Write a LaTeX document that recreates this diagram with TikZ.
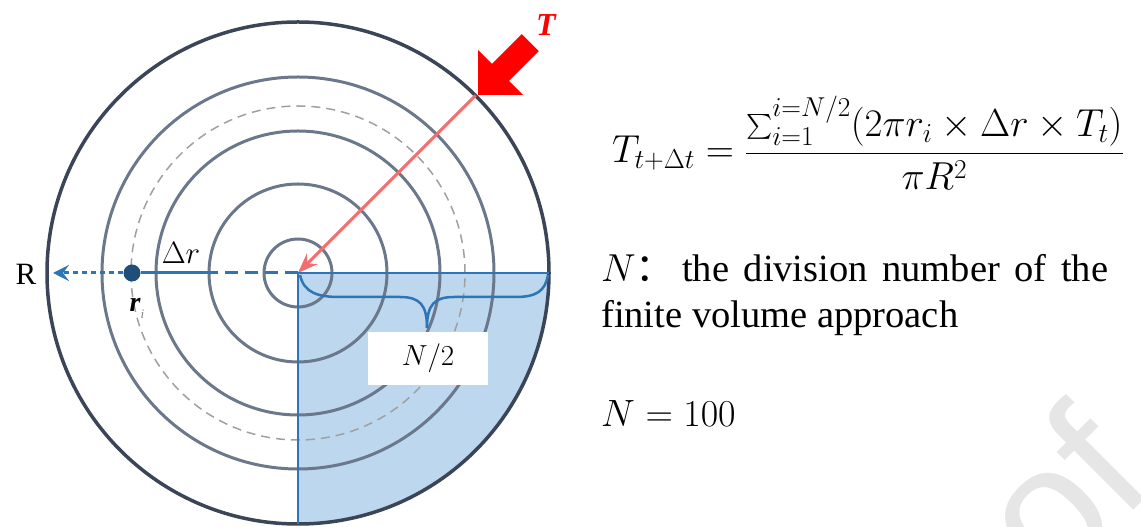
\RequirePackage{fix-cm}
\documentclass[tikz,border=0pt]{standalone}
\usepackage{amsmath}
\usepackage{fontspec}
\setmainfont{Liberation Serif}
\newfontfamily\cjk{Noto Sans CJK SC}
\newfontfamily\wmfont{Liberation Sans}
\usetikzlibrary{arrows.meta}
\definecolor{outerc}{HTML}{3C4558}
\definecolor{ringc}{HTML}{6B778A}
\definecolor{dashc}{HTML}{A0A0A0}
\definecolor{quadfill}{HTML}{BDD7EE}
\definecolor{blueline}{HTML}{2E75B6}
\definecolor{dotc}{HTML}{1F4E79}
\definecolor{redthin}{HTML}{F26D6D}
\definecolor{redbold}{HTML}{FF0000}
\definecolor{wmc}{HTML}{E6E6E6}
\begin{document}
\begin{tikzpicture}[x=1pt,y=1pt,
  ring/.style={draw=ringc,line width=3pt},
  bluel/.style={draw=blueline,line width=3pt},
  bracestyle/.style={draw=blueline,line width=2.5pt},
  txt/.style={anchor=base west,inner sep=0pt},
  lbl/.style={inner sep=0pt}]
\useasboundingbox (0,0) rectangle (1141,527);
% watermark
\begin{scope}
\clip (0,0) rectangle (1141,527);
\node[txt,rotate=45,text=wmc] (wm) at (1052,-65) {\wmfont\fontsize{180}{180}\selectfont of};
\end{scope}
\coordinate (C) at (298,254);
\coordinate (Qr) at (549,254);
\coordinate (Qb) at (298,3);
\coordinate (Tin) at (475.5,431.5);
\coordinate (Ltip) at (53,254);
\coordinate (Mid) at (210,254);
% quadrant
\fill[quadfill] (C) -- (Qr) arc[start angle=0,end angle=-90,radius=251] -- cycle;
% rings
\foreach \r in {34,89,142,196} \draw[ring] (C) circle[radius=\r];
\draw[dashc,line width=1.5pt,dash pattern=on 9pt off 6pt] (C) circle[radius=167];
\draw[outerc,line width=3.5pt] (C) circle[radius=251];
% red thin arrow
\draw[redthin,line width=3pt,-{Stealth[length=20pt,width=15pt]}] (Tin) -- (C);
% blue quadrant edges
\draw[bluel,line width=2.5pt] (Qr) -- (C) -- (Qb);
% radius line
\node[circle,fill=dotc,minimum size=17pt,inner sep=0pt] (ri) at (132,254) {};
\draw[bluel,dash pattern=on 13pt off 7pt] (C) -- (Mid);
\draw[bluel] (Mid) -- (ri);
\draw[bluel,dash pattern=on 5pt off 4pt,-{Stealth[length=16pt,width=16pt,inset=6pt]}] (ri) -- (Ltip);
% brace
\coordinate (Btip) at (427,199);
\draw[bracestyle] (300,252) .. controls (304,234) and (318,230) .. (340,230) -- (400,230) .. controls (420,230) and (427,222) .. (Btip);
\draw[bracestyle] (Btip) .. controls (427,222) and (434,230) .. (454,230) -- (515,230) .. controls (537,230) and (545,236) .. (548,252);
\node[fill=white,minimum width=120pt,minimum height=53pt,inner sep=0pt] (half) at (428,168.5) {\fontsize{29}{34}\selectfont $N/2$};
% labels
\node[lbl] (Rl) at (26,253) {\fontsize{31}{36}\selectfont R};
\node[lbl] (dr) at (181,274) {\fontsize{31}{36}\selectfont $\Delta r$};
\node[lbl] (ril) at (137,219) {\fontsize{28}{34}\selectfont\textbf{\textit{r}}\raisebox{-7pt}{\fontsize{13}{13}\selectfont\color{gray}\textit{i}}};
\node[lbl,text=redbold] (Tl) at (546,502) {\fontsize{32}{38}\selectfont\bfseries\itshape T};
% block arrow
\fill[redbold] (478,432) -- (523.2,432) -- (509.1,446.1) -- (538.8,475.8) -- (521.8,492.8) -- (492.1,463.1) -- (478,477.2) -- cycle;
% formula and text
\node[txt] (eq) at (612,364) {\fontsize{39}{46}\selectfont $T_{t+\Delta t} = \dfrac{\sum_{i=1}^{i=N/2}(2\pi r_i\times\Delta r\times T_t)}{\pi R^2}$};
\node[txt] (n1) at (601,245) {\fontsize{39}{46}\selectfont $N$\cjk{：}};
\node[txt] (n1t) at (682,245) {\fontsize{38.5}{46}\selectfont\makebox[426pt][s]{the division number of the}};
\node[txt] (n2) at (601,199) {\fontsize{38.5}{46}\selectfont finite volume approach};
\node[txt] (n3) at (601,100) {\fontsize{38}{44}\selectfont $N = 100$};
\end{tikzpicture}
\end{document}
